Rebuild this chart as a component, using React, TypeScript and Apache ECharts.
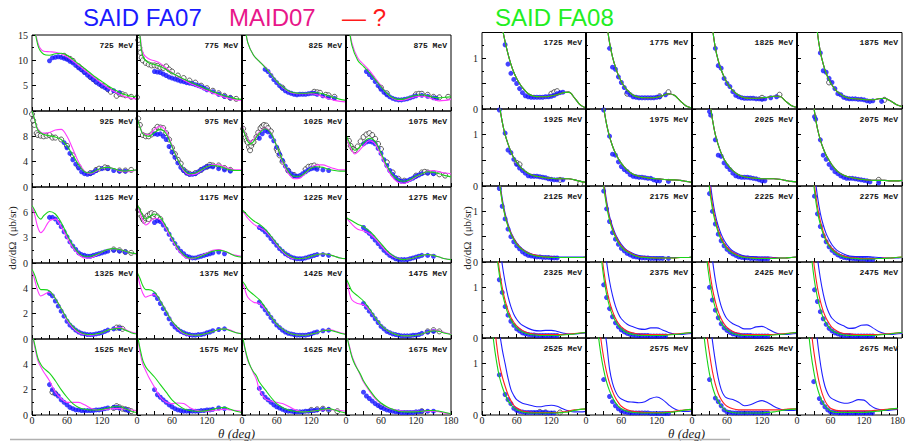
import React, { useEffect, useRef } from "react";
import * as echarts from "echarts";

type P = [number, number][];

// ---------- LEFT BLOCK (SAID FA07 / MAID07) ----------
const LEFT_ENERGIES = [
  "725 MeV", "775 MeV", "825 MeV", "875 MeV",
  "925 MeV", "975 MeV", "1025 MeV", "1075 MeV",
  "1125 MeV", "1175 MeV", "1225 MeV", "1275 MeV",
  "1325 MeV", "1375 MeV", "1425 MeV", "1475 MeV",
  "1525 MeV", "1575 MeV", "1625 MeV", "1675 MeV",
];
const LEFT_YMAX = [15, 12, 9, 6, 6];
const LEFT_YSTEP = [5, 4, 3, 2, 2];

const L_GREEN: P[] = [
  [[0,20],[10,13],[20,11.2],[30,11],[40,11.3],[50,11.4],[60,11],[70,10.2],[80,9.3],[90,8.4],[100,7.5],[110,6.6],[120,5.8],[130,5],[140,4.3],[150,3.7],[160,3.2],[170,2.9],[180,2.8]],
  [[0,20],[5,15],[10,10.8],[20,9.5],[30,9.2],[40,8.8],[50,8.2],[60,7.5],[70,6.9],[80,6.3],[90,5.8],[100,5.3],[110,4.8],[120,4.3],[130,3.8],[140,3.4],[150,3],[160,2.7],[170,2.4],[180,2.3]],
  [[0,22],[5,17],[10,13.5],[20,11],[30,9.8],[40,8.6],[50,7.3],[60,5.9],[70,4.8],[80,4],[90,3.6],[100,3.5],[110,3.5],[120,3.6],[130,3.6],[140,3.4],[150,3],[160,2.6],[170,2.3],[180,2.1]],
  [[0,22],[5,17],[10,13],[20,10],[30,8.8],[40,7.6],[50,6.2],[60,4.8],[70,3.5],[80,2.6],[90,2.3],[100,2.4],[110,2.8],[120,3.1],[130,3.2],[140,3],[150,2.7],[160,2.6],[170,2.7],[180,2.8]],
  [[0,12],[5,10.5],[10,9],[20,8.3],[30,8.1],[40,7.9],[50,7.5],[60,6.5],[70,5],[80,3.5],[90,2.4],[100,2.2],[110,2.6],[120,3],[130,3.1],[140,2.9],[150,2.6],[160,2.5],[170,2.6],[180,2.7]],
  [[0,11],[5,9.5],[10,8.4],[20,8],[30,8.6],[40,9.1],[50,8.4],[60,6.4],[70,4.3],[80,2.8],[90,2.1],[100,2.2],[110,2.7],[120,3.2],[130,3.4],[140,3.3],[150,3],[160,2.7],[170,2.6],[180,2.6]],
  [[0,9.6],[5,8.3],[10,7.2],[15,6.8],[20,7.2],[30,8.5],[40,9.2],[50,8.5],[60,6.5],[70,4.2],[80,2.5],[90,1.7],[100,1.7],[110,2.3],[120,3],[130,3.2],[140,3.1],[150,2.8],[160,2.6],[170,2.5],[180,2.5]],
  [[0,8.2],[5,7.2],[10,6.2],[15,5.8],[20,6],[30,7],[40,7.7],[50,7.2],[60,5.4],[70,3.4],[80,1.9],[90,1.1],[100,0.9],[110,1.2],[120,1.7],[130,2.1],[140,2.4],[150,2.3],[160,2.1],[170,1.8],[180,1.6]],
  [[0,6.8],[5,6.2],[10,5.5],[15,5.2],[20,5.6],[30,6.1],[40,5.8],[50,4.8],[60,3.4],[70,2.1],[80,1.2],[90,0.8],[100,0.8],[110,1],[120,1.3],[130,1.6],[140,1.7],[150,1.6],[160,1.4],[170,1.2],[180,1.1]],
  [[0,7],[5,6.3],[10,5.6],[15,5.2],[20,5.4],[30,5.8],[40,5.4],[50,4.3],[60,3],[70,1.8],[80,1],[90,0.6],[100,0.6],[110,0.8],[120,1.1],[130,1.4],[140,1.5],[150,1.4],[160,1.1],[170,0.8],[180,0.7]],
  [[0,6.3],[5,6],[10,5.6],[20,5],[30,4.6],[40,4],[50,3.2],[60,2.3],[70,1.5],[80,0.9],[90,0.6],[100,0.5],[110,0.6],[120,0.8],[130,1],[140,1.1],[150,1],[160,0.8],[170,0.6],[180,0.5]],
  [[0,5.4],[10,5],[20,4.6],[30,4.3],[40,3.8],[50,3.1],[60,2.3],[70,1.5],[80,0.9],[90,0.5],[100,0.4],[110,0.5],[120,0.7],[130,0.9],[140,1],[150,0.9],[160,0.7],[170,0.5],[180,0.4]],
  [[0,5.5],[5,5],[10,4.3],[15,3.9],[20,3.9],[30,3.8],[40,3.2],[50,2.4],[60,1.6],[70,1],[80,0.6],[90,0.4],[100,0.35],[110,0.4],[120,0.5],[130,0.7],[140,0.8],[150,0.85],[160,0.7],[170,0.5],[180,0.4]],
  [[0,5.3],[5,4.8],[10,4.2],[15,3.9],[20,3.9],[30,3.7],[40,3],[50,2.2],[60,1.4],[70,0.9],[80,0.5],[90,0.35],[100,0.3],[110,0.35],[120,0.45],[130,0.6],[140,0.75],[150,0.8],[160,0.65],[170,0.5],[180,0.4]],
  [[0,4.6],[5,4.3],[10,3.9],[20,3.5],[30,3.1],[40,2.5],[50,1.8],[60,1.2],[70,0.8],[80,0.5],[90,0.35],[100,0.3],[110,0.3],[120,0.4],[130,0.5],[140,0.65],[150,0.7],[160,0.6],[170,0.45],[180,0.35]],
  [[0,4.8],[5,4.3],[10,3.8],[20,3.4],[30,3],[40,2.4],[50,1.7],[60,1.1],[70,0.7],[80,0.45],[90,0.3],[100,0.25],[110,0.25],[120,0.3],[130,0.4],[140,0.55],[150,0.65],[160,0.6],[170,0.45],[180,0.35]],
  [[0,6.5],[5,5.5],[10,4.5],[15,4],[20,3.7],[30,3.3],[40,2.7],[50,2],[60,1.4],[70,0.9],[80,0.6],[90,0.45],[100,0.4],[110,0.4],[120,0.45],[130,0.55],[140,0.65],[150,0.65],[160,0.5],[170,0.3],[180,0.2]],
  [[0,6.5],[5,5.3],[10,4.3],[15,3.8],[20,3.5],[30,3],[40,2.4],[50,1.8],[60,1.2],[70,0.8],[80,0.5],[90,0.35],[100,0.3],[110,0.3],[120,0.35],[130,0.45],[140,0.55],[150,0.6],[160,0.45],[170,0.3],[180,0.2]],
  [[0,6.5],[5,5.3],[10,4.4],[15,3.8],[20,3.4],[25,3.1],[30,2.6],[40,2],[50,1.4],[60,0.9],[70,0.6],[80,0.4],[90,0.3],[100,0.25],[110,0.25],[120,0.3],[130,0.35],[140,0.45],[150,0.5],[160,0.4],[170,0.25],[180,0.15]],
  [[0,6.5],[5,5.5],[10,4.6],[15,4],[20,3.6],[25,3.2],[30,2.7],[40,2],[50,1.4],[60,0.95],[70,0.65],[80,0.45],[90,0.3],[100,0.25],[110,0.25],[120,0.25],[130,0.3],[140,0.35],[150,0.35],[160,0.3],[170,0.2],[180,0.1]],
];

const L_MAGENTA: P[] = [
  [[0,20],[10,13.5],[20,11.8],[30,11.7],[40,11.6],[50,11.3],[60,10.7],[70,9.9],[80,9],[90,8.1],[100,7.2],[110,6.3],[120,5.4],[130,4.6],[140,3.9],[150,3.3],[160,2.8],[170,2.5],[180,2.4]],
  [[0,20],[5,15.5],[10,11.5],[20,10.3],[30,9.9],[40,9.4],[50,8.5],[60,7.6],[70,6.8],[80,6.1],[90,5.5],[100,5],[110,4.5],[120,4],[130,3.5],[140,3.1],[150,2.7],[160,2.4],[170,2.2],[180,2.1]],
  [[0,22],[5,17],[10,13.5],[20,11],[30,9.8],[40,8.7],[50,7.4],[60,5.9],[70,4.7],[80,3.9],[90,3.5],[100,3.4],[110,3.4],[120,3.4],[130,3.2],[140,2.8],[150,2.4],[160,2.1],[170,1.9],[180,1.8]],
  [[0,22],[5,17],[10,13.5],[20,10.5],[30,9.2],[40,8],[50,6.5],[60,5],[70,3.5],[80,2.5],[90,2.1],[100,2.2],[110,2.5],[120,2.8],[130,2.9],[140,2.7],[150,2.3],[160,2],[170,2.1],[180,2.3]],
  [[0,12],[5,10.5],[10,9.2],[20,8.5],[30,8.6],[40,9],[50,9.1],[60,8],[70,6],[80,3.9],[90,2.5],[100,2.1],[110,2.5],[120,3],[130,3.1],[140,2.9],[150,2.5],[160,2.4],[170,2.5],[180,2.7]],
  [[0,11],[5,9.6],[10,8.5],[20,8.2],[30,9.1],[40,9.6],[50,8.8],[60,6.6],[70,4.3],[80,2.6],[90,1.9],[100,2],[110,2.6],[120,3.2],[130,3.5],[140,3.5],[150,3.2],[160,2.9],[170,2.7],[180,2.7]],
  [[0,9.8],[5,8.5],[10,7.5],[15,7.2],[20,7.5],[30,8.7],[40,9.3],[50,8.6],[60,6.5],[70,4],[80,2.2],[90,1.3],[100,1.4],[110,2.2],[120,3.1],[130,3.5],[140,3.5],[150,3.2],[160,2.9],[170,2.7],[180,2.7]],
  [[0,8.2],[5,6.8],[10,5.8],[15,5.2],[20,5.5],[30,6.5],[40,7.3],[50,6.8],[60,5],[70,3],[80,1.5],[90,0.7],[100,0.6],[110,1],[120,1.6],[130,2.1],[140,2.5],[150,2.6],[160,2.4],[170,2.2],[180,2.1]],
  [[0,6.8],[5,5.6],[10,4.2],[15,3.6],[20,3.9],[30,5],[40,5.2],[50,4.3],[60,3],[70,1.8],[80,1],[90,0.6],[100,0.6],[110,0.9],[120,1.3],[130,1.6],[140,1.7],[150,1.6],[160,1.4],[170,1.2],[180,1]],
  [[0,7],[5,6],[10,5],[15,4.5],[20,4.7],[30,5.3],[40,5.1],[50,4.1],[60,2.8],[70,1.6],[80,0.8],[90,0.5],[100,0.6],[110,0.9],[120,1.2],[130,1.5],[140,1.6],[150,1.4],[160,1.1],[170,0.9],[180,0.8]],
  [[0,6.3],[5,5.8],[10,5.3],[20,4.6],[30,4.2],[40,3.8],[50,3.1],[60,2.2],[70,1.4],[80,0.8],[90,0.5],[100,0.5],[110,0.6],[120,0.8],[130,1],[140,1.1],[150,1],[160,0.8],[170,0.6],[180,0.5]],
  [[0,5.4],[10,4.6],[20,4],[30,3.8],[40,3.5],[50,2.9],[60,2.1],[70,1.3],[80,0.8],[90,0.5],[100,0.4],[110,0.5],[120,0.7],[130,0.9],[140,1],[150,0.9],[160,0.7],[170,0.5],[180,0.4]],
  [[0,5.5],[5,4.6],[10,3.8],[15,3.4],[20,3.5],[30,3.7],[40,3.2],[50,2.4],[60,1.5],[70,0.9],[80,0.5],[90,0.35],[100,0.3],[110,0.35],[120,0.5],[130,0.7],[140,0.85],[150,0.9],[160,0.75],[170,0.55],[180,0.45]],
  [[0,5.3],[5,4.3],[10,3.6],[15,3.3],[20,3.4],[30,3.5],[40,3],[50,2.2],[60,1.4],[70,0.8],[80,0.45],[90,0.3],[100,0.3],[110,0.35],[120,0.45],[130,0.6],[140,0.75],[150,0.8],[160,0.7],[170,0.5],[180,0.45]],
  [[0,4.6],[5,3.9],[10,3.3],[20,2.9],[30,2.8],[40,2.4],[50,1.8],[60,1.2],[70,0.8],[80,0.5],[90,0.35],[100,0.3],[110,0.3],[120,0.4],[130,0.5],[140,0.65],[150,0.75],[160,0.65],[170,0.5],[180,0.4]],
  [[0,4.8],[5,3.8],[10,3.1],[20,2.8],[30,2.7],[40,2.3],[50,1.7],[60,1.1],[70,0.7],[80,0.45],[90,0.3],[100,0.25],[110,0.25],[120,0.3],[130,0.4],[140,0.55],[150,0.7],[160,0.65],[170,0.5],[180,0.4]],
  [[0,6.5],[5,5.3],[10,4.3],[15,3.8],[20,3.4],[30,2.7],[40,1.8],[50,1.3],[60,1],[70,1],[80,1],[90,0.8],[100,0.55],[110,0.4],[120,0.4],[130,0.45],[140,0.5],[150,0.5],[160,0.45],[170,0.4],[180,0.35]],
  [[0,6.5],[5,5],[10,4],[15,3.5],[20,3],[30,2.2],[40,1.4],[50,1],[60,0.9],[70,0.95],[80,0.9],[90,0.6],[100,0.4],[110,0.3],[120,0.3],[130,0.35],[140,0.4],[150,0.45],[160,0.4],[170,0.35],[180,0.3]],
  [[0,6.5],[5,5.2],[10,4.3],[15,3.8],[20,3.3],[25,2.8],[30,2],[40,1.3],[50,1.1],[60,1],[70,0.9],[80,0.7],[90,0.45],[100,0.3],[110,0.25],[120,0.3],[130,0.35],[140,0.4],[150,0.45],[160,0.4],[170,0.35],[180,0.3]],
  [[0,6.5],[5,5.6],[10,4.7],[15,4.1],[20,3.6],[25,3.1],[30,2.6],[40,1.9],[50,1.3],[60,0.9],[70,0.6],[80,0.45],[90,0.35],[100,0.3],[110,0.3],[120,0.3],[130,0.3],[140,0.3],[150,0.3],[160,0.25],[170,0.15],[180,0.1]],
];

const L_DOTS: P[] = [
  [[30,9.9],[35,10.5],[40,10.6],[45,10.7],[50,10.6],[55,10.4],[60,10.2],[65,9.8],[70,9.5],[75,9],[80,8.5],[85,8.1],[90,7.6],[95,7.1],[100,6.7],[105,6.2],[110,5.7],[115,5.3],[120,5],[125,4.6],[130,4.3],[140,4],[150,3.6]],
  [[30,7.8],[35,7.7],[40,7.6],[45,7.3],[50,7],[55,6.7],[60,6.5],[65,6.3],[70,6.1],[75,5.9],[80,5.8],[85,5.6],[90,5.5],[95,5.4],[100,5.2],[105,5],[110,4.8],[115,4.5],[120,4.2],[130,3.8],[140,3.3],[150,2.9],[160,2.6]],
  [[40,8.2],[45,7.8],[50,7],[55,6.2],[60,5.6],[65,5],[70,4.5],[75,4],[80,3.7],[85,3.5],[90,3.3],[95,3.2],[100,3.3],[105,3.3],[110,3.3],[115,3.4],[120,3.5],[125,3.5],[130,3.3],[140,3],[150,2.7],[160,2.5]],
  [[35,7.8],[40,7.2],[45,6.6],[50,5.8],[55,5],[60,4.3],[65,3.7],[70,3.2],[75,2.8],[80,2.5],[85,2.3],[90,2.2],[95,2.2],[100,2.3],[105,2.4],[110,2.6],[115,2.8],[120,3],[130,3.1],[140,2.9],[150,2.6],[155,2.5]],
  [[55,7],[60,6.2],[65,5.3],[70,4.3],[75,3.6],[80,3],[85,2.4],[90,2.1],[95,2],[100,2.1],[105,2.3],[110,2.6],[120,2.9],[130,2.9],[140,2.6],[150,2.5],[160,2.5]],
  [[30,8.4],[35,8.3],[40,8.4],[45,8],[50,7.5],[55,6.4],[60,5.5],[65,4.7],[70,3.8],[75,3.1],[80,2.6],[85,2.2],[90,2],[95,2],[100,2.1],[105,2.4],[110,2.7],[115,3],[120,3.2],[125,3.3],[130,3.2],[140,2.9],[150,2.7],[160,2.5]],
  [[30,7.7],[35,8.4],[40,8.9],[45,8.7],[50,8],[55,7.3],[60,6.3],[65,5.2],[70,4.2],[75,3.3],[80,2.6],[85,2.1],[90,1.8],[95,1.7],[100,1.8],[105,2.1],[110,2.4],[115,2.7],[120,2.9],[125,3],[130,2.8],[140,2.7],[150,2.6]],
  [[30,6.8],[35,7.1],[40,7.2],[45,7.1],[50,6.8],[55,6.1],[60,5.3],[65,4.3],[70,3.4],[75,2.6],[80,2],[85,1.5],[90,1.1],[95,0.9],[100,0.9],[105,1],[110,1.2],[115,1.4],[120,1.7],[125,1.9],[130,2.1],[140,2.2],[150,2.1]],
  [[30,5.4],[35,5.4],[40,5.2],[45,4.8],[50,4.3],[55,3.7],[60,3.1],[65,2.5],[70,2],[75,1.6],[80,1.2],[85,1],[90,0.9],[95,0.8],[100,0.8],[105,0.9],[110,1],[115,1.1],[120,1.2],[125,1.3],[130,1.4],[140,1.5],[150,1.4],[160,1.3]],
  [[30,4.8],[35,5],[40,4.9],[45,4.5],[50,4],[55,3.4],[60,2.8],[65,2.3],[70,1.8],[75,1.4],[80,1.1],[85,0.8],[90,0.7],[95,0.6],[100,0.6],[105,0.7],[110,0.8],[115,0.9],[120,1],[125,1.1],[130,1.2],[140,1.3],[150,1.1]],
  [[30,4.2],[35,4],[40,3.7],[45,3.3],[50,2.9],[55,2.5],[60,2.1],[65,1.7],[70,1.4],[75,1.1],[80,0.9],[85,0.7],[90,0.6],[95,0.5],[100,0.5],[105,0.5],[110,0.6],[115,0.7],[120,0.8],[125,0.9],[130,1],[140,1],[150,0.9]],
  [[30,4.2],[35,3.8],[40,3.5],[45,3.1],[50,2.7],[55,2.3],[60,1.9],[65,1.5],[70,1.2],[75,0.9],[80,0.7],[85,0.5],[90,0.4],[95,0.4],[100,0.4],[105,0.4],[110,0.5],[115,0.6],[120,0.7],[125,0.8],[130,0.9],[140,0.9],[150,0.8]],
  [[30,3.6],[35,3.4],[40,3],[45,2.6],[50,2.2],[55,1.8],[60,1.4],[65,1.1],[70,0.9],[75,0.7],[80,0.55],[85,0.45],[90,0.4],[95,0.35],[100,0.35],[105,0.35],[110,0.4],[115,0.45],[120,0.5],[125,0.6],[130,0.7],[140,0.8],[150,0.85]],
  [[30,3.5],[35,3.2],[40,2.8],[45,2.4],[50,2],[55,1.6],[60,1.2],[65,0.95],[70,0.75],[75,0.6],[80,0.5],[85,0.4],[90,0.35],[95,0.3],[100,0.3],[105,0.35],[110,0.35],[115,0.4],[120,0.5],[125,0.55],[130,0.65],[140,0.75],[150,0.8]],
  [[30,2.9],[35,2.6],[40,2.3],[45,2],[50,1.7],[55,1.4],[60,1.1],[65,0.9],[70,0.7],[75,0.55],[80,0.45],[85,0.4],[90,0.35],[95,0.3],[100,0.3],[105,0.3],[110,0.3],[115,0.35],[120,0.4],[125,0.5],[130,0.55],[140,0.65],[150,0.7]],
  [[30,2.8],[35,2.5],[40,2.2],[45,1.9],[50,1.6],[55,1.3],[60,1],[65,0.8],[70,0.6],[75,0.5],[80,0.4],[85,0.35],[90,0.3],[95,0.25],[100,0.25],[105,0.25],[110,0.25],[115,0.3],[120,0.3],[125,0.35],[130,0.45],[140,0.55],[150,0.6]],
  [[30,2.4],[35,2],[40,1.7],[45,1.5],[50,1.2],[55,1],[60,0.8],[65,0.6],[70,0.5],[75,0.4],[80,0.4],[85,0.35],[90,0.35],[95,0.35],[100,0.35],[105,0.35],[110,0.4],[115,0.4],[120,0.45],[125,0.5],[130,0.55],[140,0.6],[145,0.6],[150,0.55],[160,0.45],[165,0.35]],
  [[30,2],[35,1.6],[40,1.4],[45,1.2],[50,1],[55,0.8],[60,0.65],[65,0.5],[70,0.4],[75,0.35],[80,0.3],[85,0.3],[90,0.3],[95,0.3],[100,0.3],[105,0.3],[110,0.35],[115,0.35],[120,0.4],[125,0.4],[130,0.45],[140,0.55],[150,0.5]],
  [[30,2.1],[35,1.7],[40,1.4],[45,1.2],[50,1],[55,0.8],[60,0.65],[65,0.55],[70,0.45],[75,0.35],[80,0.3],[85,0.3],[90,0.25],[95,0.25],[100,0.25],[105,0.25],[110,0.3],[115,0.3],[120,0.35],[125,0.35],[130,0.4],[140,0.45],[150,0.45]],
  [[30,1.8],[35,1.5],[40,1.3],[45,1.1],[50,0.9],[55,0.75],[60,0.6],[65,0.5],[70,0.4],[75,0.35],[80,0.3],[85,0.25],[90,0.25],[95,0.2],[100,0.2],[105,0.2],[110,0.2],[115,0.2],[120,0.25],[125,0.25],[130,0.3],[140,0.3],[150,0.3]],
];

const L_OPEN: P[] = [
  [[55,10.9],[60,10.5],[65,10.3],[70,9.9],[80,8.8],[85,8.3],[90,7.8],[100,6.7],[105,6.3],[110,5.8],[120,5],[130,4.3],[135,3.8],[145,3],[150,3.4],[155,3.3],[160,3.1],[170,2.8],[180,2.7]],
  [[2,14],[4,12.5],[6,11.5],[8,10.5],[10,10],[15,9.5],[20,9.2],[25,9],[30,9],[35,8.9],[40,8.6],[45,8.5],[50,8.8],[55,8.2],[60,7.8],[70,7],[80,6.5],[90,6],[100,5.6],[110,5],[120,4.5],[130,4],[140,3.5],[150,3],[160,2.6],[170,2.4]],
  [[70,4.6],[125,3.8],[130,3.7],[135,3.6],[145,3.2],[150,3.1],[160,2.8]],
  [[60,4.6],[70,3.5],[120,3.3],[125,3.4],[130,3.4],[140,3.2],[150,2.8],[160,2.7],[175,2.8]],
  [[0,11.5],[2,10.5],[4,9.8],[8,8.5],[10,8.2],[15,8.1],[20,8],[25,8.1],[30,8.2],[35,7.8],[40,7.8],[50,7.5],[60,6.5],[70,5],[80,3.2],[100,2.2],[110,2.7],[115,2.9],[125,3.1],[130,3],[150,2.6],[160,2.6],[170,2.7]],
  [[2,10.8],[5,9.8],[10,8.2],[15,8],[20,8],[25,8.3],[30,9],[35,9.5],[40,9.4],[45,9.3],[50,8.5],[55,7.5],[60,6.2],[65,5.2],[70,4.3],[75,3.7],[80,2.7],[85,2.3],[90,2.1],[100,2.2],[110,2.7],[120,3.2],[125,3.5],[130,3.4],[140,3.4],[150,3],[160,2.7]],
  [[2,9.2],[4,8.3],[6,7.8],[8,7.3],[10,7],[12,6.3],[14,5.8],[16,6.5],[18,7],[20,7.1],[25,7.9],[28,8.6],[32,9.3],[35,9.6],[38,9.8],[42,9.7],[45,9.3],[50,8.8],[60,6],[62,5.6],[65,5],[70,4],[80,2.6],[90,1.9],[110,2.8],[115,3.2],[120,3.3],[125,3.4],[130,3.2]],
  [[5,7.3],[8,6.5],[12,6],[15,5.8],[20,6.4],[25,7.2],[30,7.9],[35,8.3],[40,8.5],[45,8.2],[50,7.6],[55,6.8],[60,6],[70,3.9],[80,2.3],[90,1.3],[100,1],[120,1.8],[130,2.3],[135,2.4],[140,2.3],[150,2.2],[160,2],[170,1.8]],
  [[140,1.6],[150,1.5],[160,1.3],[170,1.2]],
  [[2,6.3],[5,5.8],[8,5.5],[10,5.2],[12,5],[15,5.3],[18,5.6],[20,5.2],[22,5.8],[25,5.9],[28,5.5],[30,5.8],[35,5.5],[40,5.2]],
  [],
  [],
  [[145,0.9],[150,0.9],[155,0.8]],
  [],
  [],
  [[140,0.6],[150,0.7],[160,0.6]],
  [[35,1.8],[40,1.7],[140,0.55],[145,0.7],[150,0.6],[155,0.5],[160,0.45],[165,0.4],[170,0.3]],
  [],
  [[120,0.4],[130,0.45],[140,0.5],[150,0.4],[165,0.3]],
  [[60,0.7],[130,0.3]],
];

// ---------- RIGHT BLOCK (SAID FA08) ----------
const RIGHT_ENERGIES = [
  "1725 MeV", "1775 MeV", "1825 MeV", "1875 MeV",
  "1925 MeV", "1975 MeV", "2025 MeV", "2075 MeV",
  "2125 MeV", "2175 MeV", "2225 MeV", "2275 MeV",
  "2325 MeV", "2375 MeV", "2425 MeV", "2475 MeV",
  "2525 MeV", "2575 MeV", "2625 MeV", "2675 MeV",
];
const RIGHT_YMAX = 1.5;

const R_GREEN: P[] = [
  [[30,2],[35,1.6],[40,1.32],[45,1.08],[50,0.88],[55,0.72],[60,0.6],[65,0.5],[70,0.42],[80,0.3],[90,0.25],[100,0.24],[110,0.24],[120,0.26],[130,0.28],[140,0.32],[150,0.33],[160,0.22],[170,0.08],[180,0.02]],
  [[30,2.2],[35,1.7],[40,1.3],[45,1.02],[50,0.82],[55,0.66],[60,0.54],[65,0.44],[70,0.37],[80,0.27],[90,0.23],[100,0.22],[110,0.22],[120,0.23],[130,0.26],[140,0.3],[150,0.27],[160,0.16],[170,0.06],[180,0.02]],
  [[30,2.2],[35,1.6],[40,1.2],[45,0.95],[50,0.77],[55,0.63],[60,0.52],[65,0.43],[70,0.36],[80,0.27],[90,0.22],[100,0.21],[110,0.21],[120,0.22],[130,0.23],[140,0.25],[150,0.25],[160,0.16],[170,0.07],[180,0.03]],
  [[30,2.1],[35,1.5],[40,1.12],[45,0.88],[50,0.7],[55,0.57],[60,0.47],[65,0.39],[70,0.33],[80,0.25],[90,0.21],[100,0.2],[110,0.19],[120,0.18],[130,0.18],[140,0.2],[150,0.21],[160,0.16],[170,0.09],[180,0.05]],
  [[25,2.2],[30,1.6],[35,1.25],[40,1],[45,0.82],[50,0.67],[55,0.55],[60,0.46],[65,0.39],[70,0.33],[80,0.25],[90,0.2],[100,0.18],[110,0.16],[120,0.15],[130,0.14],[140,0.14],[150,0.14],[160,0.12],[170,0.09],[180,0.07]],
  [[25,2.2],[30,1.55],[35,1.2],[40,0.96],[45,0.78],[50,0.64],[55,0.53],[60,0.44],[65,0.37],[70,0.31],[80,0.23],[90,0.19],[100,0.17],[110,0.15],[120,0.14],[130,0.13],[140,0.12],[150,0.12],[160,0.11],[170,0.09],[180,0.07]],
  [[25,2.4],[30,1.7],[35,1.3],[40,1],[45,0.8],[50,0.64],[55,0.52],[60,0.43],[65,0.36],[70,0.3],[80,0.22],[90,0.18],[100,0.16],[110,0.15],[120,0.14],[130,0.14],[140,0.14],[150,0.13],[160,0.11],[170,0.09],[180,0.08]],
  [[25,2],[30,1.45],[35,1.12],[40,0.9],[45,0.73],[50,0.6],[55,0.5],[60,0.41],[65,0.34],[70,0.28],[80,0.21],[90,0.17],[100,0.15],[110,0.13],[120,0.12],[130,0.11],[140,0.11],[150,0.11],[160,0.1],[170,0.1],[180,0.11]],
  [[25,2.3],[30,1.6],[35,1.18],[40,0.9],[45,0.7],[50,0.55],[55,0.44],[60,0.35],[65,0.29],[70,0.24],[80,0.17],[90,0.13],[100,0.11],[110,0.1],[120,0.09],[130,0.09],[140,0.09],[150,0.09],[160,0.09],[170,0.09],[180,0.1]],
  [[25,2.2],[30,1.5],[35,1.1],[40,0.82],[45,0.63],[50,0.49],[55,0.38],[60,0.3],[65,0.24],[70,0.2],[80,0.14],[90,0.1],[100,0.09],[110,0.08],[120,0.08],[130,0.08],[140,0.08],[150,0.08],[160,0.09],[170,0.09],[180,0.1]],
  [[25,2.1],[30,1.45],[35,1.05],[40,0.78],[45,0.58],[50,0.44],[55,0.34],[60,0.26],[65,0.21],[70,0.17],[80,0.12],[90,0.09],[100,0.08],[110,0.07],[120,0.07],[130,0.07],[140,0.07],[150,0.08],[160,0.08],[170,0.09],[180,0.1]],
  [[25,2],[30,1.4],[35,1],[40,0.74],[45,0.55],[50,0.41],[55,0.31],[60,0.24],[65,0.19],[70,0.15],[80,0.1],[90,0.08],[100,0.07],[110,0.06],[120,0.06],[130,0.06],[140,0.07],[150,0.07],[160,0.08],[170,0.09],[180,0.1]],
  [[20,2.4],[25,1.7],[30,1.25],[35,0.9],[40,0.66],[45,0.48],[50,0.36],[55,0.27],[60,0.2],[65,0.15],[70,0.12],[80,0.08],[90,0.06],[100,0.05],[110,0.05],[120,0.05],[130,0.05],[140,0.06],[150,0.07],[160,0.08],[170,0.1],[180,0.11]],
  [[20,2.4],[25,1.7],[30,1.2],[35,0.86],[40,0.62],[45,0.45],[50,0.33],[55,0.24],[60,0.18],[70,0.1],[80,0.07],[90,0.05],[100,0.05],[110,0.05],[120,0.05],[130,0.05],[140,0.06],[150,0.07],[160,0.08],[170,0.1],[180,0.11]],
  [[20,2.3],[25,1.6],[30,1.15],[35,0.82],[40,0.59],[45,0.42],[50,0.3],[55,0.22],[60,0.16],[70,0.09],[80,0.06],[90,0.05],[100,0.05],[110,0.05],[120,0.05],[130,0.05],[140,0.06],[150,0.07],[160,0.08],[170,0.1],[180,0.11]],
  [[20,2.3],[25,1.6],[30,1.12],[35,0.8],[40,0.57],[45,0.4],[50,0.29],[55,0.21],[60,0.15],[70,0.09],[80,0.06],[90,0.05],[100,0.05],[110,0.05],[120,0.05],[130,0.05],[140,0.06],[150,0.07],[160,0.08],[170,0.1],[180,0.11]],
  [[15,2],[20,1.45],[25,1.05],[30,0.75],[35,0.55],[40,0.4],[45,0.28],[50,0.2],[55,0.14],[60,0.1],[70,0.06],[80,0.04],[90,0.04],[100,0.04],[110,0.04],[120,0.04],[130,0.04],[140,0.05],[150,0.06],[160,0.09],[170,0.11],[180,0.12]],
  [[15,2.3],[20,1.65],[25,1.2],[30,0.88],[35,0.64],[40,0.47],[45,0.34],[50,0.24],[55,0.17],[60,0.12],[70,0.07],[80,0.05],[90,0.04],[100,0.04],[110,0.04],[120,0.04],[130,0.04],[140,0.05],[150,0.06],[160,0.08],[170,0.1],[180,0.11]],
  [[15,2.2],[20,1.6],[25,1.15],[30,0.8],[35,0.55],[40,0.38],[45,0.26],[50,0.18],[55,0.12],[60,0.08],[70,0.05],[80,0.04],[90,0.04],[100,0.04],[110,0.04],[120,0.04],[130,0.05],[140,0.06],[150,0.08],[160,0.1],[170,0.11],[180,0.12]],
  [[15,2.4],[20,1.7],[25,1.2],[30,0.85],[35,0.58],[40,0.4],[45,0.27],[50,0.18],[55,0.12],[60,0.08],[70,0.05],[80,0.05],[90,0.05],[100,0.05],[110,0.05],[120,0.05],[130,0.06],[140,0.07],[150,0.08],[160,0.1],[170,0.12],[180,0.13]],
];

// red and blue curves: rows 1-2 coincide with the green solution
const R_RED: P[] = [
  R_GREEN[0], R_GREEN[1], R_GREEN[2], R_GREEN[3],
  R_GREEN[4], R_GREEN[5], R_GREEN[6], R_GREEN[7],
  [[25,2.35],[30,1.63],[35,1.2],[40,0.92],[45,0.72],[50,0.57],[55,0.46],[60,0.37],[65,0.3],[70,0.25],[80,0.18],[90,0.14],[100,0.12],[110,0.1],[120,0.1],[130,0.09],[140,0.09],[150,0.09],[160,0.09],[170,0.09],[180,0.1]],
  [[25,2.3],[30,1.56],[35,1.15],[40,0.86],[45,0.66],[50,0.52],[55,0.41],[60,0.32],[65,0.26],[70,0.22],[80,0.15],[90,0.11],[100,0.1],[110,0.09],[120,0.08],[130,0.08],[140,0.08],[150,0.08],[160,0.09],[170,0.09],[180,0.1]],
  [[25,2.25],[30,1.55],[35,1.13],[40,0.84],[45,0.63],[50,0.48],[55,0.37],[60,0.29],[65,0.23],[70,0.19],[80,0.13],[90,0.1],[100,0.09],[110,0.08],[120,0.08],[130,0.08],[140,0.08],[150,0.08],[160,0.08],[170,0.09],[180,0.1]],
  [[25,2.2],[30,1.52],[35,1.1],[40,0.81],[45,0.6],[50,0.45],[55,0.34],[60,0.27],[65,0.21],[70,0.17],[80,0.12],[90,0.09],[100,0.08],[110,0.07],[120,0.07],[130,0.07],[140,0.07],[150,0.08],[160,0.08],[170,0.09],[180,0.1]],
  [[20,2.6],[25,1.85],[30,1.35],[35,1],[40,0.74],[45,0.55],[50,0.41],[55,0.31],[60,0.24],[70,0.15],[80,0.1],[90,0.08],[100,0.07],[110,0.07],[120,0.07],[130,0.07],[140,0.07],[150,0.08],[160,0.09],[170,0.1],[180,0.11]],
  [[20,2.6],[25,1.85],[30,1.35],[35,0.98],[40,0.72],[45,0.53],[50,0.39],[55,0.29],[60,0.22],[70,0.14],[80,0.1],[90,0.08],[100,0.07],[110,0.07],[120,0.07],[130,0.07],[140,0.07],[150,0.08],[160,0.09],[170,0.1],[180,0.11]],
  [[20,2.6],[25,1.85],[30,1.35],[35,0.98],[40,0.72],[45,0.52],[50,0.38],[55,0.28],[60,0.21],[70,0.13],[80,0.09],[90,0.07],[100,0.07],[110,0.07],[120,0.07],[130,0.07],[140,0.07],[150,0.08],[160,0.09],[170,0.1],[180,0.11]],
  [[20,2.6],[25,1.9],[30,1.38],[35,1],[40,0.73],[45,0.53],[50,0.39],[55,0.29],[60,0.21],[70,0.13],[80,0.09],[90,0.08],[100,0.07],[110,0.07],[120,0.07],[130,0.07],[140,0.07],[150,0.08],[160,0.09],[170,0.1],[180,0.11]],
  [[20,2],[25,1.4],[30,1],[35,0.75],[40,0.56],[45,0.4],[50,0.28],[55,0.19],[60,0.14],[70,0.08],[80,0.06],[90,0.05],[100,0.05],[110,0.05],[120,0.05],[130,0.05],[140,0.06],[150,0.08],[160,0.1],[170,0.11],[180,0.12]],
  [[20,2],[25,1.5],[30,1.12],[35,0.83],[40,0.62],[45,0.46],[50,0.33],[55,0.24],[60,0.17],[70,0.1],[80,0.07],[90,0.06],[100,0.05],[110,0.05],[120,0.05],[130,0.05],[140,0.06],[150,0.07],[160,0.09],[170,0.1],[180,0.11]],
  [[20,2.2],[25,1.6],[30,1.2],[35,0.85],[40,0.6],[45,0.42],[50,0.3],[55,0.22],[60,0.17],[70,0.12],[80,0.1],[90,0.1],[100,0.1],[110,0.1],[120,0.1],[130,0.1],[140,0.1],[150,0.1],[160,0.11],[170,0.12],[180,0.12]],
  [[20,2.3],[25,1.7],[30,1.25],[35,0.9],[40,0.62],[45,0.42],[50,0.28],[55,0.19],[60,0.13],[70,0.09],[80,0.08],[90,0.08],[100,0.08],[110,0.08],[120,0.08],[130,0.08],[140,0.09],[150,0.1],[160,0.11],[170,0.12],[180,0.12]],
];

const R_BLUE: P[] = [
  R_GREEN[0], R_GREEN[1], R_GREEN[2], R_GREEN[3],
  R_GREEN[4], R_GREEN[5], R_GREEN[6], R_GREEN[7],
  [[25,2.45],[30,1.7],[35,1.25],[40,0.96],[45,0.75],[50,0.59],[55,0.47],[60,0.38],[65,0.31],[70,0.26],[80,0.19],[90,0.14],[100,0.12],[110,0.11],[120,0.11],[130,0.1],[140,0.1],[150,0.1],[160,0.1],[170,0.1],[180,0.1]],
  [[25,2.4],[30,1.64],[35,1.2],[40,0.9],[45,0.7],[50,0.55],[55,0.44],[60,0.35],[65,0.28],[70,0.23],[80,0.17],[90,0.13],[100,0.11],[110,0.1],[120,0.1],[130,0.1],[140,0.09],[150,0.09],[160,0.09],[170,0.09],[180,0.1]],
  [[25,2.45],[30,1.72],[35,1.25],[40,0.93],[45,0.71],[50,0.55],[55,0.43],[60,0.34],[65,0.27],[70,0.22],[80,0.16],[90,0.12],[100,0.11],[110,0.1],[120,0.1],[130,0.1],[140,0.09],[150,0.08],[160,0.08],[170,0.09],[180,0.1]],
  [[25,2.5],[30,1.78],[35,1.3],[40,0.96],[45,0.73],[50,0.56],[55,0.44],[60,0.34],[65,0.27],[70,0.22],[80,0.16],[90,0.12],[100,0.11],[110,0.11],[120,0.11],[130,0.1],[140,0.09],[150,0.08],[160,0.08],[170,0.08],[180,0.09]],
  [[25,2.5],[30,1.9],[35,1.45],[40,1.1],[45,0.82],[50,0.62],[55,0.47],[60,0.37],[65,0.3],[70,0.25],[80,0.19],[90,0.15],[100,0.14],[110,0.15],[120,0.15],[130,0.13],[140,0.1],[150,0.08],[160,0.08],[170,0.09],[180,0.1]],
  [[25,2.6],[30,2],[35,1.5],[40,1.12],[45,0.84],[50,0.63],[55,0.48],[60,0.38],[70,0.27],[80,0.22],[90,0.18],[100,0.17],[110,0.2],[120,0.2],[130,0.16],[140,0.11],[150,0.08],[160,0.07],[170,0.08],[180,0.09]],
  [[25,2.6],[30,2],[35,1.55],[40,1.15],[45,0.85],[50,0.63],[55,0.48],[60,0.38],[70,0.28],[80,0.23],[90,0.18],[100,0.18],[110,0.22],[120,0.23],[130,0.18],[140,0.12],[150,0.08],[160,0.07],[170,0.08],[180,0.09]],
  [[25,2.6],[30,2.05],[35,1.58],[40,1.18],[45,0.87],[50,0.64],[55,0.49],[60,0.39],[70,0.29],[80,0.24],[90,0.19],[100,0.2],[110,0.25],[120,0.26],[130,0.2],[140,0.13],[150,0.09],[160,0.07],[170,0.08],[180,0.09]],
  [[25,2.2],[30,1.65],[35,1.28],[40,1],[45,0.72],[50,0.5],[55,0.38],[60,0.3],[70,0.23],[80,0.2],[90,0.17],[100,0.16],[110,0.18],[120,0.19],[130,0.17],[140,0.12],[150,0.08],[160,0.06],[170,0.06],[180,0.07]],
  [[25,2.4],[30,1.8],[35,1.4],[40,0.9],[45,0.62],[50,0.46],[55,0.36],[60,0.31],[70,0.26],[80,0.25],[90,0.24],[100,0.26],[110,0.32],[120,0.35],[130,0.3],[140,0.2],[150,0.12],[160,0.08],[170,0.07],[180,0.08]],
  [[25,2.4],[30,1.9],[35,1.45],[40,1.05],[45,0.72],[50,0.5],[55,0.38],[60,0.33],[70,0.3],[80,0.25],[90,0.18],[100,0.2],[110,0.25],[120,0.28],[130,0.24],[140,0.17],[150,0.12],[160,0.09],[170,0.09],[180,0.1]],
  [[30,2.2],[35,1.6],[40,1.15],[45,0.8],[50,0.56],[55,0.42],[60,0.34],[70,0.28],[80,0.24],[90,0.23],[100,0.26],[110,0.3],[120,0.29],[130,0.2],[140,0.13],[150,0.1],[160,0.09],[170,0.1],[180,0.11]],
];

const R_DOTS: P[] = [
  [[40,1.26],[45,0.88],[50,0.7],[55,0.58],[60,0.5],[65,0.4],[70,0.32],[75,0.26],[80,0.24],[85,0.23],[90,0.23],[95,0.23],[100,0.23],[105,0.23],[110,0.24],[115,0.24],[120,0.25],[125,0.27],[130,0.3],[135,0.32],[140,0.33]],
  [[40,1.19],[45,0.82],[50,0.78],[55,0.63],[60,0.52],[65,0.42],[70,0.33],[75,0.28],[80,0.24],[85,0.23],[90,0.22],[95,0.22],[100,0.22],[105,0.22],[110,0.22],[115,0.22],[120,0.23],[125,0.24],[135,0.28]],
  [[40,1.19],[45,0.85],[50,0.8],[55,0.6],[60,0.5],[65,0.44],[70,0.34],[75,0.27],[80,0.24],[85,0.22],[90,0.21],[95,0.21],[100,0.21],[105,0.21],[110,0.2],[115,0.2],[120,0.19],[125,0.2],[135,0.22],[145,0.24]],
  [[40,1.1],[45,0.75],[50,0.72],[55,0.6],[60,0.52],[65,0.4],[70,0.3],[75,0.28],[80,0.23],[85,0.21],[90,0.2],[95,0.2],[100,0.2],[105,0.19],[110,0.19],[115,0.18],[120,0.16],[125,0.15],[130,0.16],[145,0.15]],
  [[30,1.48],[40,1.03],[45,0.7],[50,0.65],[55,0.52],[60,0.42],[65,0.35],[70,0.3],[75,0.25],[80,0.2],[85,0.19],[90,0.19],[95,0.19],[100,0.18],[105,0.17],[110,0.16],[115,0.14],[120,0.13],[125,0.12],[130,0.12],[140,0.12]],
  [[30,1.48],[40,0.97],[45,0.62],[50,0.6],[55,0.47],[60,0.38],[65,0.32],[70,0.28],[75,0.22],[80,0.19],[85,0.18],[90,0.17],[95,0.17],[100,0.16],[105,0.15],[110,0.15],[115,0.12],[120,0.1],[125,0.1],[140,0.09]],
  [[30,1.45],[32,1.38],[40,0.9],[45,0.6],[50,0.58],[55,0.45],[60,0.38],[65,0.32],[70,0.25],[75,0.2],[80,0.18],[85,0.17],[90,0.17],[95,0.17],[100,0.16],[105,0.15],[110,0.14],[115,0.12],[120,0.1],[125,0.1]],
  [[30,1.35],[32,1.3],[40,0.9],[45,0.6],[50,0.52],[55,0.42],[60,0.35],[65,0.28],[70,0.24],[75,0.2],[80,0.17],[85,0.15],[90,0.15],[95,0.15],[100,0.14],[105,0.13],[110,0.12],[115,0.11],[120,0.1],[125,0.08],[140,0.06]],
  [[30,1.45],[35,1.1],[40,0.85],[45,0.65],[50,0.5],[55,0.4],[60,0.32],[65,0.26],[70,0.2],[75,0.16],[80,0.13],[85,0.12],[90,0.11],[95,0.1],[100,0.1],[105,0.09],[110,0.09],[115,0.09],[120,0.08],[125,0.08],[130,0.08]],
  [[30,1.4],[35,1.05],[40,0.8],[45,0.58],[50,0.45],[55,0.35],[60,0.27],[65,0.22],[70,0.17],[75,0.14],[80,0.11],[85,0.1],[90,0.09],[95,0.08],[100,0.08],[105,0.08],[110,0.07],[115,0.07],[120,0.07],[125,0.07],[130,0.07],[140,0.07]],
  [[30,1.35],[35,1],[40,0.75],[45,0.55],[50,0.42],[55,0.32],[60,0.25],[65,0.2],[70,0.16],[75,0.13],[80,0.1],[85,0.09],[90,0.08],[95,0.08],[100,0.07],[105,0.07],[110,0.07],[115,0.06],[120,0.06],[125,0.06],[130,0.06]],
  [[30,1.3],[35,0.95],[40,0.7],[45,0.52],[50,0.4],[55,0.3],[60,0.23],[65,0.18],[70,0.14],[75,0.11],[80,0.09],[85,0.08],[90,0.07],[95,0.07],[100,0.06],[105,0.06],[110,0.06],[115,0.06],[120,0.05],[125,0.05],[130,0.05]],
  [[30,1.15],[35,0.9],[40,0.62],[45,0.45],[50,0.33],[55,0.25],[60,0.18],[65,0.14],[70,0.1],[75,0.08],[80,0.07],[85,0.06],[90,0.06],[95,0.05],[100,0.05],[105,0.05],[110,0.05],[115,0.05],[120,0.05],[125,0.05],[130,0.05]],
  [[30,1.05],[35,0.8],[40,0.58],[45,0.42],[50,0.3],[55,0.22],[60,0.16],[65,0.12],[70,0.09],[75,0.07],[80,0.06],[85,0.05],[90,0.05],[95,0.05],[100,0.05],[105,0.05],[110,0.04],[115,0.04],[120,0.04],[125,0.04],[130,0.04],[135,0.04]],
  [[30,1],[35,0.75],[40,0.55],[45,0.4],[50,0.28],[55,0.2],[60,0.15],[65,0.11],[70,0.08],[75,0.07],[80,0.06],[85,0.05],[90,0.05],[95,0.05],[100,0.05],[105,0.04],[110,0.04],[115,0.04],[120,0.04],[125,0.04],[130,0.04]],
  [[30,0.95],[35,0.72],[40,0.52],[45,0.38],[50,0.27],[55,0.19],[60,0.14],[65,0.1],[70,0.08],[75,0.06],[80,0.05],[85,0.05],[90,0.05],[95,0.04],[100,0.04],[105,0.04],[110,0.04],[115,0.04],[120,0.04],[125,0.04],[130,0.04]],
  [[30,0.78],[40,0.4],[45,0.3],[50,0.22],[55,0.13],[60,0.09],[65,0.07],[70,0.06],[75,0.05],[80,0.05],[85,0.05],[90,0.05],[95,0.05],[100,0.05],[105,0.05],[110,0.05],[115,0.04],[120,0.04],[125,0.04]],
  [[30,0.69],[40,0.36],[45,0.26],[50,0.18],[55,0.12],[60,0.08],[65,0.06],[70,0.05],[75,0.04],[80,0.04],[85,0.04],[90,0.04],[95,0.04],[100,0.04],[105,0.04],[110,0.03],[115,0.03],[120,0.03],[125,0.03],[130,0.03],[135,0.03],[140,0.03]],
  [[30,0.69],[40,0.33],[45,0.26],[50,0.18],[55,0.1],[60,0.06],[65,0.05],[70,0.04],[75,0.04],[80,0.04],[85,0.04],[90,0.04],[95,0.04],[100,0.04],[105,0.04],[110,0.04],[115,0.04],[120,0.04],[125,0.04],[130,0.04]],
  [[30,0.65],[40,0.32],[45,0.24],[50,0.16],[55,0.1],[60,0.06],[65,0.05],[70,0.05],[75,0.04],[80,0.04],[85,0.04],[90,0.04],[95,0.04],[100,0.04],[105,0.04],[110,0.04],[115,0.04],[120,0.04],[125,0.04],[130,0.04],[135,0.04]],
];

const R_OPEN: P[] = [
  [[120,0.3],[125,0.33],[130,0.35]],
  [[70,0.3],[125,0.25],[140,0.33]],
  [[120,0.22],[150,0.28]],
  [[55,0.52],[150,0.18]],
  [[60,0.45],[65,0.42],[135,0.12],[170,0.05]],
  [],
  [],
  [[140,0.12]],
  [], [], [], [],
  [], [], [], [],
  [[100,0.06],[110,0.05],[135,0.05]],
  [], [], [],
];

// ---------- layout ----------
const LX = [32, 137, 242, 346, 451];
const LY = [35, 111, 187, 263, 339, 415];
const RX = [482, 586, 692, 797, 902];
const RY = [32.5, 109, 186, 262, 338, 415];

const C_GREEN = "#19d419";
const C_MAGENTA = "#ff3cff";
const C_RED = "#ff2020";
const C_BLUE_LINE = "#2020ff";
const C_DOT = "#1414ff";

export default function App() {
  const ref = useRef<HTMLDivElement>(null);

  useEffect(() => {
    if (!ref.current) return;
    const chart = echarts.init(ref.current, null, { renderer: "svg" });

    const grids: any[] = [];
    const xAxes: any[] = [];
    const yAxes: any[] = [];
    const series: any[] = [];
    const graphics: any[] = [];

    const axisFont = { fontFamily: "Liberation Serif", fontSize: 10, color: "#222" };

    const addPanel = (opts: {
      left: number; top: number; width: number; height: number;
      ymax: number; ystep: number;
      showY: boolean; showTopY: boolean; rightBlock: boolean;
      showX: boolean; show180: boolean;
      label: string;
      curves: { data: P; color: string }[];
      dots: P; open: P;
    }) => {
      const gi = grids.length;
      grids.push({
        left: opts.left, top: opts.top, width: opts.width, height: opts.height,
        show: true, borderColor: "#000", borderWidth: 1, backgroundColor: "transparent",
      });
      xAxes.push({
        gridIndex: gi, type: "value", min: 0, max: 180, interval: 30,
        axisLine: { show: false },
        splitLine: { show: false },
        axisTick: { show: true, inside: true, length: 4, lineStyle: { color: "#000", width: 1 } },
        minorTick: { show: true, splitNumber: 2, length: 2, lineStyle: { color: "#000" } },
        axisLabel: {
          show: opts.showX, ...axisFont, fontSize: 10, margin: 0,
          showMaxLabel: true, showMinLabel: true,
          formatter: (v: number) => (v % 60 === 0 && (v < 180 || opts.show180) ? String(v) : ""),
        },
      });
      yAxes.push({
        gridIndex: gi, type: "value", min: 0, max: opts.ymax, interval: opts.ystep,
        axisLine: { show: false },
        splitLine: { show: false },
        axisTick: { show: true, inside: true, length: 4, lineStyle: { color: "#000", width: 1 } },
        minorTick: { show: true, splitNumber: 2, length: 2, lineStyle: { color: "#000" } },
        axisLabel: {
          show: opts.showY, ...axisFont, margin: 4,
          showMaxLabel: true, showMinLabel: true,
          formatter: (v: number) => {
            if (opts.rightBlock) return v === 0 || v === 1 ? String(v) : "";
            if (Math.abs(v - opts.ymax) < 1e-9 && !opts.showTopY) return "";
            return String(v);
          },
        },
      });
      opts.curves.forEach((c) => {
        series.push({
          type: "line", xAxisIndex: gi, yAxisIndex: gi, data: c.data,
          smooth: 0.35, showSymbol: false, clip: true, silent: true,
          lineStyle: { color: c.color, width: 1.1 },
        });
      });
      series.push({
        type: "scatter", xAxisIndex: gi, yAxisIndex: gi, data: opts.open,
        symbol: "circle", symbolSize: 5, clip: true, silent: true,
        itemStyle: { color: "#fff", borderColor: "#222", borderWidth: 0.9 },
      });
      series.push({
        type: "scatter", xAxisIndex: gi, yAxisIndex: gi, data: opts.dots,
        symbol: "circle", symbolSize: 5, clip: true, silent: true,
        itemStyle: { color: C_DOT },
      });
      graphics.push({
        type: "text", x: opts.left + opts.width - 4, y: opts.top + 10, z: 100,
        style: {
          text: opts.label, fill: "#111", font: "bold 8px 'Liberation Mono'",
          textAlign: "right", textVerticalAlign: "middle",
        },
      });
    };

    for (let r = 0; r < 5; r++) {
      for (let c = 0; c < 4; c++) {
        const i = r * 4 + c;
        addPanel({
          left: LX[c], top: LY[r], width: LX[c + 1] - LX[c], height: LY[r + 1] - LY[r],
          ymax: LEFT_YMAX[r], ystep: LEFT_YSTEP[r],
          showY: c === 0, showTopY: r === 0, rightBlock: false,
          showX: r === 4, show180: c === 3,
          label: LEFT_ENERGIES[i],
          curves: [
            { data: L_MAGENTA[i], color: C_MAGENTA },
            { data: L_GREEN[i], color: C_GREEN },
          ],
          dots: L_DOTS[i], open: L_OPEN[i],
        });
      }
    }
    for (let r = 0; r < 5; r++) {
      for (let c = 0; c < 4; c++) {
        const i = r * 4 + c;
        addPanel({
          left: RX[c], top: RY[r], width: RX[c + 1] - RX[c], height: RY[r + 1] - RY[r],
          ymax: RIGHT_YMAX, ystep: 0.5,
          showY: c === 0, showTopY: false, rightBlock: true,
          showX: r === 4, show180: c === 3,
          label: RIGHT_ENERGIES[i],
          curves: [
            { data: R_BLUE[i], color: C_BLUE_LINE },
            { data: R_RED[i], color: C_RED },
            { data: R_GREEN[i], color: C_GREEN },
          ],
          dots: R_DOTS[i], open: R_OPEN[i],
        });
      }
    }

    // thicker vertical separators between columns
    [LX[1], LX[2], LX[3]].forEach((x) =>
      graphics.push({ type: "line", shape: { x1: x, y1: LY[0], x2: x, y2: LY[5] }, style: { stroke: "#000", lineWidth: 2 }, z: 50 })
    );
    [RX[1], RX[2], RX[3]].forEach((x) =>
      graphics.push({ type: "line", shape: { x1: x, y1: RY[0], x2: x, y2: RY[5] }, style: { stroke: "#000", lineWidth: 2 }, z: 50 })
    );

    // titles
    const titleFont = "24px 'Liberation Sans'";
    graphics.push({ type: "text", x: 83, y: 17, style: { text: "SAID FA07", fill: "#1a1aff", font: titleFont, textVerticalAlign: "middle" } });
    graphics.push({ type: "text", x: 229, y: 17, style: { text: "MAID07", fill: "#e8178a", font: titleFont, textVerticalAlign: "middle" } });
    graphics.push({ type: "text", x: 342, y: 17, style: { text: "— ?", fill: "#ff1a1a", font: titleFont, textVerticalAlign: "middle" } });
    graphics.push({ type: "text", x: 495, y: 17, style: { text: "SAID FA08", fill: "#22ee22", font: titleFont, textVerticalAlign: "middle" } });

    // axis names
    const yName = "dσ/dΩ  (μb/sr)";
    graphics.push({ type: "text", x: 12, y: 238, rotation: Math.PI / 2, style: { text: yName, fill: "#222", font: "11px 'Liberation Serif'", textAlign: "center", textVerticalAlign: "middle" } });
    graphics.push({ type: "text", x: 467, y: 238, rotation: Math.PI / 2, style: { text: yName, fill: "#222", font: "11px 'Liberation Serif'", textAlign: "center", textVerticalAlign: "middle" } });
    graphics.push({ type: "text", x: 218, y: 433, style: { text: "θ (deg)", fill: "#222", font: "italic 13px 'Liberation Serif'", textVerticalAlign: "middle" } });
    graphics.push({ type: "text", x: 668, y: 433, style: { text: "θ (deg)", fill: "#222", font: "italic 13px 'Liberation Serif'", textVerticalAlign: "middle" } });

    // bottom rule
    graphics.push({ type: "line", shape: { x1: 10, y1: 439.5, x2: 730, y2: 439.5 }, style: { stroke: "#b0b0b0", lineWidth: 1.5 } });

    chart.setOption({
      animation: false,
      backgroundColor: "#fff",
      grid: grids,
      xAxis: xAxes,
      yAxis: yAxes,
      series,
      graphic: graphics,
    });

    return () => chart.dispose();
  }, []);

  return (
    <div
      ref={ref}
      style={{ position: "fixed", left: 0, top: 0, width: 908, height: 441, background: "#fff" }}
    />
  );
}
